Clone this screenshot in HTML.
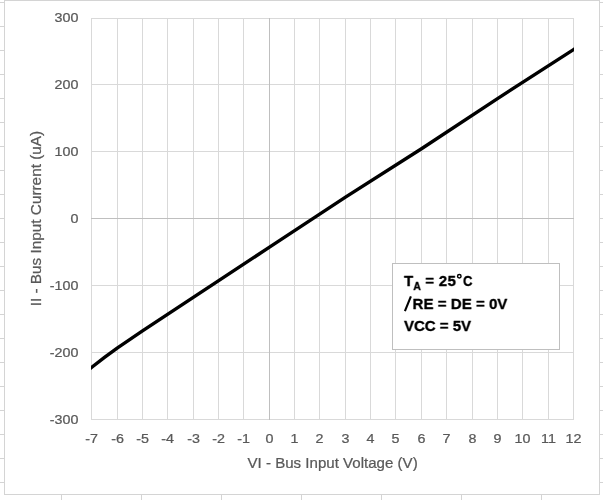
<!DOCTYPE html>
<html><head><meta charset="utf-8"><style>
html,body{margin:0;padding:0;background:#fff;width:603px;height:500px;overflow:hidden}
svg{display:block;filter:grayscale(1)}
.t{font-family:"Liberation Sans",sans-serif;font-size:13px;fill:#595959;stroke:#595959;stroke-width:0.25px}
.ti{font-family:"Liberation Sans",sans-serif;font-size:15.4px;fill:#595959;stroke:#595959;stroke-width:0.25px}
.lg{font-family:"Liberation Sans",sans-serif;font-size:15px;font-weight:bold;fill:#000;stroke:#000;stroke-width:0.3px}
</style></head><body>
<svg width="603" height="500" viewBox="0 0 603 500">
<rect x="0" y="2" width="4" height="1" fill="#d4d4d4" shape-rendering="crispEdges"/>
<rect x="600" y="2" width="3" height="1" fill="#d4d4d4" shape-rendering="crispEdges"/>
<rect x="0" y="26" width="4" height="1" fill="#d4d4d4" shape-rendering="crispEdges"/>
<rect x="600" y="26" width="3" height="1" fill="#d4d4d4" shape-rendering="crispEdges"/>
<rect x="0" y="50" width="4" height="1" fill="#d4d4d4" shape-rendering="crispEdges"/>
<rect x="600" y="50" width="3" height="1" fill="#d4d4d4" shape-rendering="crispEdges"/>
<rect x="0" y="74" width="4" height="1" fill="#d4d4d4" shape-rendering="crispEdges"/>
<rect x="600" y="74" width="3" height="1" fill="#d4d4d4" shape-rendering="crispEdges"/>
<rect x="0" y="98" width="4" height="1" fill="#d4d4d4" shape-rendering="crispEdges"/>
<rect x="600" y="98" width="3" height="1" fill="#d4d4d4" shape-rendering="crispEdges"/>
<rect x="0" y="122" width="4" height="1" fill="#d4d4d4" shape-rendering="crispEdges"/>
<rect x="600" y="122" width="3" height="1" fill="#d4d4d4" shape-rendering="crispEdges"/>
<rect x="0" y="146" width="4" height="1" fill="#d4d4d4" shape-rendering="crispEdges"/>
<rect x="600" y="146" width="3" height="1" fill="#d4d4d4" shape-rendering="crispEdges"/>
<rect x="0" y="170" width="4" height="1" fill="#d4d4d4" shape-rendering="crispEdges"/>
<rect x="600" y="170" width="3" height="1" fill="#d4d4d4" shape-rendering="crispEdges"/>
<rect x="0" y="194" width="4" height="1" fill="#d4d4d4" shape-rendering="crispEdges"/>
<rect x="600" y="194" width="3" height="1" fill="#d4d4d4" shape-rendering="crispEdges"/>
<rect x="0" y="218" width="4" height="1" fill="#d4d4d4" shape-rendering="crispEdges"/>
<rect x="600" y="218" width="3" height="1" fill="#d4d4d4" shape-rendering="crispEdges"/>
<rect x="0" y="242" width="4" height="1" fill="#d4d4d4" shape-rendering="crispEdges"/>
<rect x="600" y="242" width="3" height="1" fill="#d4d4d4" shape-rendering="crispEdges"/>
<rect x="0" y="266" width="4" height="1" fill="#d4d4d4" shape-rendering="crispEdges"/>
<rect x="600" y="266" width="3" height="1" fill="#d4d4d4" shape-rendering="crispEdges"/>
<rect x="0" y="290" width="4" height="1" fill="#d4d4d4" shape-rendering="crispEdges"/>
<rect x="600" y="290" width="3" height="1" fill="#d4d4d4" shape-rendering="crispEdges"/>
<rect x="0" y="314" width="4" height="1" fill="#d4d4d4" shape-rendering="crispEdges"/>
<rect x="600" y="314" width="3" height="1" fill="#d4d4d4" shape-rendering="crispEdges"/>
<rect x="0" y="338" width="4" height="1" fill="#d4d4d4" shape-rendering="crispEdges"/>
<rect x="600" y="338" width="3" height="1" fill="#d4d4d4" shape-rendering="crispEdges"/>
<rect x="0" y="362" width="4" height="1" fill="#d4d4d4" shape-rendering="crispEdges"/>
<rect x="600" y="362" width="3" height="1" fill="#d4d4d4" shape-rendering="crispEdges"/>
<rect x="0" y="386" width="4" height="1" fill="#d4d4d4" shape-rendering="crispEdges"/>
<rect x="600" y="386" width="3" height="1" fill="#d4d4d4" shape-rendering="crispEdges"/>
<rect x="0" y="410" width="4" height="1" fill="#d4d4d4" shape-rendering="crispEdges"/>
<rect x="600" y="410" width="3" height="1" fill="#d4d4d4" shape-rendering="crispEdges"/>
<rect x="0" y="434" width="4" height="1" fill="#d4d4d4" shape-rendering="crispEdges"/>
<rect x="600" y="434" width="3" height="1" fill="#d4d4d4" shape-rendering="crispEdges"/>
<rect x="0" y="458" width="4" height="1" fill="#d4d4d4" shape-rendering="crispEdges"/>
<rect x="600" y="458" width="3" height="1" fill="#d4d4d4" shape-rendering="crispEdges"/>
<rect x="0" y="482" width="4" height="1" fill="#d4d4d4" shape-rendering="crispEdges"/>
<rect x="600" y="482" width="3" height="1" fill="#d4d4d4" shape-rendering="crispEdges"/>
<rect x="61" y="495" width="1" height="5" fill="#d4d4d4" shape-rendering="crispEdges"/>
<rect x="141" y="495" width="1" height="5" fill="#d4d4d4" shape-rendering="crispEdges"/>
<rect x="221" y="495" width="1" height="5" fill="#d4d4d4" shape-rendering="crispEdges"/>
<rect x="301" y="495" width="1" height="5" fill="#d4d4d4" shape-rendering="crispEdges"/>
<rect x="381" y="495" width="1" height="5" fill="#d4d4d4" shape-rendering="crispEdges"/>
<rect x="461" y="495" width="1" height="5" fill="#d4d4d4" shape-rendering="crispEdges"/>
<rect x="541" y="495" width="1" height="5" fill="#d4d4d4" shape-rendering="crispEdges"/>
<rect x="4" y="0" width="596" height="1" fill="#d4d4d4" shape-rendering="crispEdges"/>
<rect x="4" y="494" width="596" height="1" fill="#d4d4d4" shape-rendering="crispEdges"/>
<rect x="4" y="0" width="1" height="495" fill="#d4d4d4" shape-rendering="crispEdges"/>
<rect x="599" y="0" width="1" height="495" fill="#d4d4d4" shape-rendering="crispEdges"/>
<rect x="91" y="18" width="1" height="402" fill="#d9d9d9"/>
<rect x="117" y="18" width="1" height="402" fill="#d9d9d9"/>
<rect x="142" y="18" width="1" height="402" fill="#d9d9d9"/>
<rect x="167" y="18" width="1" height="402" fill="#d9d9d9"/>
<rect x="193" y="18" width="1" height="402" fill="#d9d9d9"/>
<rect x="218" y="18" width="1" height="402" fill="#d9d9d9"/>
<rect x="243" y="18" width="1" height="402" fill="#d9d9d9"/>
<rect x="269" y="18" width="1" height="402" fill="#bfbfbf"/>
<rect x="294" y="18" width="1" height="402" fill="#d9d9d9"/>
<rect x="319" y="18" width="1" height="402" fill="#d9d9d9"/>
<rect x="345" y="18" width="1" height="402" fill="#d9d9d9"/>
<rect x="370" y="18" width="1" height="402" fill="#d9d9d9"/>
<rect x="395" y="18" width="1" height="402" fill="#d9d9d9"/>
<rect x="421" y="18" width="1" height="402" fill="#d9d9d9"/>
<rect x="446" y="18" width="1" height="402" fill="#d9d9d9"/>
<rect x="472" y="18" width="1" height="402" fill="#d9d9d9"/>
<rect x="497" y="18" width="1" height="402" fill="#d9d9d9"/>
<rect x="522" y="18" width="1" height="402" fill="#d9d9d9"/>
<rect x="548" y="18" width="1" height="402" fill="#d9d9d9"/>
<rect x="573" y="18" width="1" height="402" fill="#d9d9d9"/>
<rect x="91" y="18" width="483" height="1" fill="#d9d9d9"/>
<rect x="91" y="84" width="483" height="1" fill="#d9d9d9"/>
<rect x="91" y="151" width="483" height="1" fill="#d9d9d9"/>
<rect x="91" y="218" width="483" height="1" fill="#bfbfbf"/>
<rect x="91" y="285" width="483" height="1" fill="#d9d9d9"/>
<rect x="91" y="352" width="483" height="1" fill="#d9d9d9"/>
<rect x="91" y="419" width="483" height="1" fill="#d9d9d9"/>
<rect x="269" y="18" width="1" height="402" fill="#bfbfbf"/>
<clipPath id="pc"><rect x="91" y="0" width="483" height="500"/></clipPath>
<polyline clip-path="url(#pc)" points="85.5,372.1 91.5,367.4 104.5,357.4 117.5,347.8 142.5,330.8 269.5,247.2 345.5,197.2 421.5,148.8 497.5,98.6 573.5,49.6 580.5,45.1" fill="none" stroke="#000" stroke-width="3.4" stroke-linejoin="round" stroke-linecap="butt"/>
<text transform="translate(91.5 443) scale(1.1 1)" text-anchor="middle" class="t">-7</text>
<text transform="translate(117.5 443) scale(1.1 1)" text-anchor="middle" class="t">-6</text>
<text transform="translate(142.5 443) scale(1.1 1)" text-anchor="middle" class="t">-5</text>
<text transform="translate(167.5 443) scale(1.1 1)" text-anchor="middle" class="t">-4</text>
<text transform="translate(193.5 443) scale(1.1 1)" text-anchor="middle" class="t">-3</text>
<text transform="translate(218.5 443) scale(1.1 1)" text-anchor="middle" class="t">-2</text>
<text transform="translate(243.5 443) scale(1.1 1)" text-anchor="middle" class="t">-1</text>
<text transform="translate(269.5 443) scale(1.1 1)" text-anchor="middle" class="t">0</text>
<text transform="translate(294.5 443) scale(1.1 1)" text-anchor="middle" class="t">1</text>
<text transform="translate(319.5 443) scale(1.1 1)" text-anchor="middle" class="t">2</text>
<text transform="translate(345.5 443) scale(1.1 1)" text-anchor="middle" class="t">3</text>
<text transform="translate(370.5 443) scale(1.1 1)" text-anchor="middle" class="t">4</text>
<text transform="translate(395.5 443) scale(1.1 1)" text-anchor="middle" class="t">5</text>
<text transform="translate(421.5 443) scale(1.1 1)" text-anchor="middle" class="t">6</text>
<text transform="translate(446.5 443) scale(1.1 1)" text-anchor="middle" class="t">7</text>
<text transform="translate(472.5 443) scale(1.1 1)" text-anchor="middle" class="t">8</text>
<text transform="translate(497.5 443) scale(1.1 1)" text-anchor="middle" class="t">9</text>
<text transform="translate(522.5 443) scale(1.1 1)" text-anchor="middle" class="t">10</text>
<text transform="translate(548.5 443) scale(1.1 1)" text-anchor="middle" class="t">11</text>
<text transform="translate(573.5 443) scale(1.1 1)" text-anchor="middle" class="t">12</text>
<text transform="translate(78.4 22) scale(1.1 1)" text-anchor="end" class="t">300</text>
<text transform="translate(78.4 89) scale(1.1 1)" text-anchor="end" class="t">200</text>
<text transform="translate(78.4 156) scale(1.1 1)" text-anchor="end" class="t">100</text>
<text transform="translate(78.4 223) scale(1.1 1)" text-anchor="end" class="t">0</text>
<text transform="translate(78.4 290) scale(1.1 1)" text-anchor="end" class="t">-100</text>
<text transform="translate(78.4 357) scale(1.1 1)" text-anchor="end" class="t">-200</text>
<text transform="translate(78.4 424) scale(1.1 1)" text-anchor="end" class="t">-300</text>
<text transform="translate(332.6 468) scale(0.98 1)" text-anchor="middle" class="ti">VI - Bus Input Voltage (V)</text>
<text transform="translate(41 218.6) rotate(-90) scale(0.995 1)" x="0" y="0" text-anchor="middle" class="ti">II - Bus Input Current (uA)</text>
<rect x="392.5" y="263.5" width="167" height="86" fill="#fff" stroke="#bfbfbf" stroke-width="1"/>
<text x="404" y="285.5" class="lg">T<tspan font-size="10.5" dy="4">A</tspan><tspan dy="-4" letter-spacing="0.3"> = 25</tspan></text>
<circle cx="459.3" cy="276.2" r="1.75" fill="none" stroke="#000" stroke-width="1.45"/>
<text transform="translate(463 285.5) scale(0.87 1)" class="lg">C</text>
<path d="M404.9 311.2 L410.9 296.4" stroke="#000" stroke-width="2.1" stroke-linecap="butt"/>
<text x="412.6" y="309" class="lg" letter-spacing="0.05">RE = DE = 0V</text>
<text x="404" y="331" class="lg">VCC = 5V</text>
</svg>
</body></html>
